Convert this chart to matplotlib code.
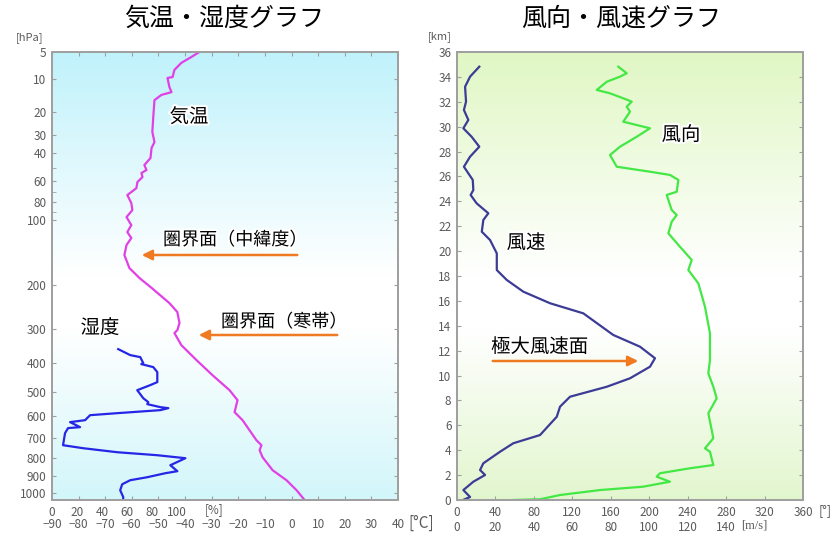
import numpy as np
import matplotlib.pyplot as plt
import matplotlib.patheffects as pe
from matplotlib.ticker import FixedLocator, NullFormatter

plt.rcParams['font.family'] = ['Noto Sans CJK JP', 'DejaVu Sans']

# 気温 (hPa, degC)
temp_p = [5.0, 5.9, 6.7, 8.0, 9.5, 9.7, 11.9, 13.3, 14.1, 15.7, 21.0, 28.4, 33.6, 37.0,
          43.2, 48.0, 51.6, 53.9, 57.0, 61.1, 66.4, 72.8, 80.7, 88.1, 96.0, 105.6, 114.5,
          122.6, 132.5, 147.8, 169.4, 187.4, 206.8, 238.5, 259.1, 286.0, 304.2, 312.1,
          345.8, 391.3, 441.0, 494.9, 533.3, 582.2, 616.6, 708.9, 733.4, 758.5, 794.6,
          865.3, 922.2, 982.1, 1043.0]
temp_c = [-34.6, -38.3, -41.4, -44.0, -44.7, -46.6, -45.9, -45.1, -48.9, -51.5, -51.9,
          -52.3, -51.5, -52.6, -53.0, -55.3, -54.5, -56.4, -56.0, -57.9, -58.3, -61.7,
          -60.2, -59.8, -62.0, -60.2, -61.7, -60.2, -62.0, -62.8, -60.9, -57.1, -52.5,
          -45.9, -42.9, -42.1, -42.9, -44.0, -41.4, -35.7, -29.7, -23.3, -20.3, -21.4,
          -18.4, -13.2, -11.3, -12.0, -10.9, -7.1, -1.9, 1.9, 4.9]

# 湿度 (hPa, %)
hum_p = [357.5, 375.6, 381.8, 400.8, 404.0, 413.8, 430.6, 465.4, 476.2, 494.9, 525.6,
         541.2, 549.2, 561.4, 565.6, 573.8, 586.5, 595.0, 616.6, 625.2, 647.7, 652.0,
         675.4, 733.4, 748.4, 768.8, 784.3, 799.9, 837.5, 870.6, 881.9, 904.8, 922.2,
         945.9, 982.1, 1024.0, 1043.0]
hum_pct = [52.8, 62.4, 70.4, 72.8, 71.2, 80.8, 84.0, 84.0, 78.4, 68.0, 72.8, 76.8, 76.0,
           86.4, 92.8, 86.4, 52.0, 30.4, 26.4, 14.4, 22.4, 12.8, 10.4, 8.8, 24.8, 52.0,
           84.0, 106.4, 94.4, 100.0, 90.4, 76.0, 62.4, 56.0, 54.4, 56.8, 56.8]

# 風速 (km, m/s)
spd_km = [34.82, 34.02, 33.21, 32.01, 31.34, 30.54, 29.87, 29.19, 28.39, 27.59, 26.78,
          26.25, 25.72, 24.91, 24.51, 23.84, 23.04, 22.50, 21.56, 20.89, 19.82, 18.48,
          17.68, 16.74, 15.81, 15.00, 13.26, 12.32, 11.39, 10.71, 9.78, 9.10, 8.30, 7.50,
          6.69, 5.22, 4.56, 3.88, 2.95, 2.41, 2.01, 1.47, 0.80, 0.24, 0.0]
spd_ms = [11.6, 6.8, 4.2, 4.7, 3.6, 5.9, 3.3, 7.6, 11.6, 6.8, 3.6, 5.9, 8.2, 8.5, 7.1,
          10.2, 16.3, 13.7, 12.9, 17.2, 20.7, 20.7, 25.9, 34.5, 48.4, 65.7, 81.3, 95.2,
          103.0, 100.4, 90.0, 77.9, 58.8, 53.6, 51.9, 43.2, 29.3, 22.4, 13.7, 12.0, 14.6,
          8.5, 3.3, 6.8, 3.1]

# 風向 (km, deg)
dir_km = [34.82, 34.29, 34.02, 33.61, 32.95, 32.68, 32.28, 32.01, 31.61, 31.20, 30.40,
          30.13, 29.87, 29.19, 28.39, 27.72, 26.78, 26.38, 26.12, 25.72, 24.77, 24.51,
          23.30, 22.90, 22.36, 21.43, 20.35, 19.29, 18.48, 17.41, 15.53, 13.40, 11.25,
          10.18, 9.10, 8.17, 6.97, 4.96, 4.15, 3.88, 2.81, 2.55, 2.15, 1.87, 1.47, 1.07,
          0.80, 0.40, 0.06, 0.0]
dir_deg = [167.8, 176.6, 169.6, 155.8, 145.4, 159.2, 173.0, 181.8, 176.6, 180.0, 173.0,
           187.0, 200.8, 187.0, 169.6, 159.2, 166.2, 200.8, 221.6, 230.3, 228.6, 218.2,
           223.4, 228.6, 223.4, 219.9, 232.0, 244.2, 240.7, 251.1, 258.0, 263.2, 263.2,
           261.5, 266.7, 270.2, 261.5, 266.7, 258.0, 263.2, 266.7, 242.4, 211.2, 207.8,
           221.6, 193.8, 148.8, 107.2, 86.4, 58.3]

p_major = [5, 10, 20, 30, 40, 60, 80, 100, 200, 300, 400, 500, 600, 700, 800, 900, 1000]
p_minor = [50, 70, 90]
t_ticks = list(range(-90, 41, 10))
h_ticks = [0, 20, 40, 60, 80, 100]
km_ticks = list(range(0, 37, 2))
deg_ticks = list(range(0, 361, 40))
ms_ticks = [0, 20, 40, 60, 80, 100, 120, 140]

W, H = 836, 536
grey = '#5a5a5a'
spine = '#a0a0a0'


def kappa(p):
    return np.power(np.clip(p, 1e-6, None), 2.0 / 7.0)


def kappa_inv(u):
    return np.power(np.clip(u, 1e-6, None), 3.5)


def gradient_bg(fig, rect, top, mid, bottom):
    bg = fig.add_axes(rect, zorder=0)
    t = np.linspace(0, 1, 256)[:, None]
    cols = np.empty((256, 1, 3))
    for i in range(3):
        cols[:, 0, i] = np.interp(t[:, 0], [0, 0.5, 0.62, 1], [top[i], mid[i], mid[i], bottom[i]])
    bg.imshow(cols / 255.0, aspect='auto', extent=[0, 1, 0, 1])
    bg.axis('off')


def style(ax):
    for s in ax.spines.values():
        s.set_color(spine)
        s.set_linewidth(1.3)
    ax.set_facecolor('none')


fig = plt.figure(figsize=(8.36, 5.36), dpi=100)
rect_l = [52 / W, 36 / H, 346 / W, 448 / H]
rect_r = [457 / W, 36 / H, 346 / W, 448 / H]

gradient_bg(fig, rect_l, (192, 242, 251), (255, 255, 255), (210, 246, 250))
gradient_bg(fig, rect_r, (224, 247, 196), (255, 255, 255), (226, 246, 206))

# ---- left: 気温・湿度
axh = fig.add_axes(rect_l, zorder=1)
axh.set_yscale('function', functions=(kappa, kappa_inv))
axh.plot(hum_pct, hum_p, color='#2626e6', lw=1.6)
axh.set_xlim(0, 276)
axh.set_ylim(1043, 5)
axh.yaxis.set_major_locator(FixedLocator(p_major))
axh.yaxis.set_minor_locator(FixedLocator(p_minor))
axh.yaxis.set_minor_formatter(NullFormatter())
axh.set_yticklabels([str(v) for v in p_major])
axh.set_xticks(h_ticks)
axh.tick_params(axis='x', length=0, pad=4, labelsize=8.5, labelcolor=grey)
axh.tick_params(axis='y', which='both', direction='in', length=3, color=spine,
                right=True, labelsize=8.5, labelcolor=grey, pad=4)
style(axh)

axt = axh.twiny()
axt.plot(temp_c, temp_p, color='#e040e6', lw=1.6)
axt.set_xlim(-90, 40)
axt.set_xticks(t_ticks)
axt.xaxis.set_ticks_position('both')
axt.xaxis.set_label_position('bottom')
axt.tick_params(axis='x', direction='in', length=3, color=spine, labelsize=8.5,
                labelcolor=grey, labelbottom=True, labeltop=False, pad=13)
style(axt)

# ---- right: 風向・風速
axd = fig.add_axes(rect_r, zorder=1)
axd.plot(dir_deg, dir_km, color='#44e844', lw=1.6)
axd.set_xlim(0, 360)
axd.set_ylim(0, 36)
axd.set_yticks(km_ticks)
axd.set_xticks(deg_ticks)
axd.tick_params(axis='x', direction='in', length=3, color=spine, top=True,
                labelsize=8.5, labelcolor=grey, pad=4)
axd.tick_params(axis='y', direction='in', length=3, color=spine, right=True,
                labelsize=8.5, labelcolor=grey, pad=4)
style(axd)

axs = axd.twiny()
axs.plot(spd_ms, spd_km, color='#3c3c96', lw=1.6)
axs.set_xlim(0, 180)
axs.set_xticks(ms_ticks)
axs.xaxis.set_ticks_position('bottom')
axs.tick_params(axis='x', length=0, labelsize=8.5, labelcolor=grey, pad=15)
style(axs)

# titles and units
fig.text(224 / W, 1 - 19 / H, '気温・湿度グラフ', ha='center', va='center', fontsize=18)
fig.text(621 / W, 1 - 19 / H, '風向・風速グラフ', ha='center', va='center', fontsize=18)
fig.text(30 / W, 1 - 38 / H, '[hPa]', ha='center', va='center', fontsize=8, color=grey)
fig.text(440 / W, 1 - 37 / H, '[km]', ha='center', va='center', fontsize=8, color=grey)
fig.text(214 / W, 1 - 510 / H, '[%]', ha='center', va='center', fontsize=8.5, color=grey)
fig.text(421 / W, 1 - 523 / H, '[°C]', ha='center', va='center', fontsize=11, color=grey)
fig.text(825 / W, 1 - 511 / H, '[°]', ha='center', va='center', fontsize=9, color=grey)
fig.text(754 / W, 1 - 525 / H, '[m/s]', ha='center', va='center', fontsize=9,
         color=grey, family='Liberation Serif')

halo = [pe.withStroke(linewidth=3, foreground='white')]
labels = [('気温', 189, 117, 'center', 14), ('湿度', 100, 328, 'center', 14),
          ('風速', 526, 243, 'center', 14), ('風向', 681, 135, 'center', 14),
          ('圏界面（中緯度）', 163, 240, 'left', 13), ('圏界面（寒帯）', 221, 322, 'left', 13),
          ('極大風速面', 491, 347, 'left', 14)]
for txt, x, y, ha, fs in labels:
    fig.text(x / W, 1 - y / H, txt, ha=ha, va='center', fontsize=fs, path_effects=halo)

arrow = dict(arrowstyle='-|>', color='#f07a22', lw=1.8, mutation_scale=15)
for (x0, y0), (x1, y1) in [((300, 255), (139, 255)), ((340, 335), (196, 335)),
                           ((490, 361), (641, 361))]:
    fig.add_artist(plt.matplotlib.patches.FancyArrowPatch(
        (x0 / W, 1 - y0 / H), (x1 / W, 1 - y1 / H), transform=fig.transFigure,
        zorder=5, **arrow))

fig.savefig('out.png', dpi=100)
